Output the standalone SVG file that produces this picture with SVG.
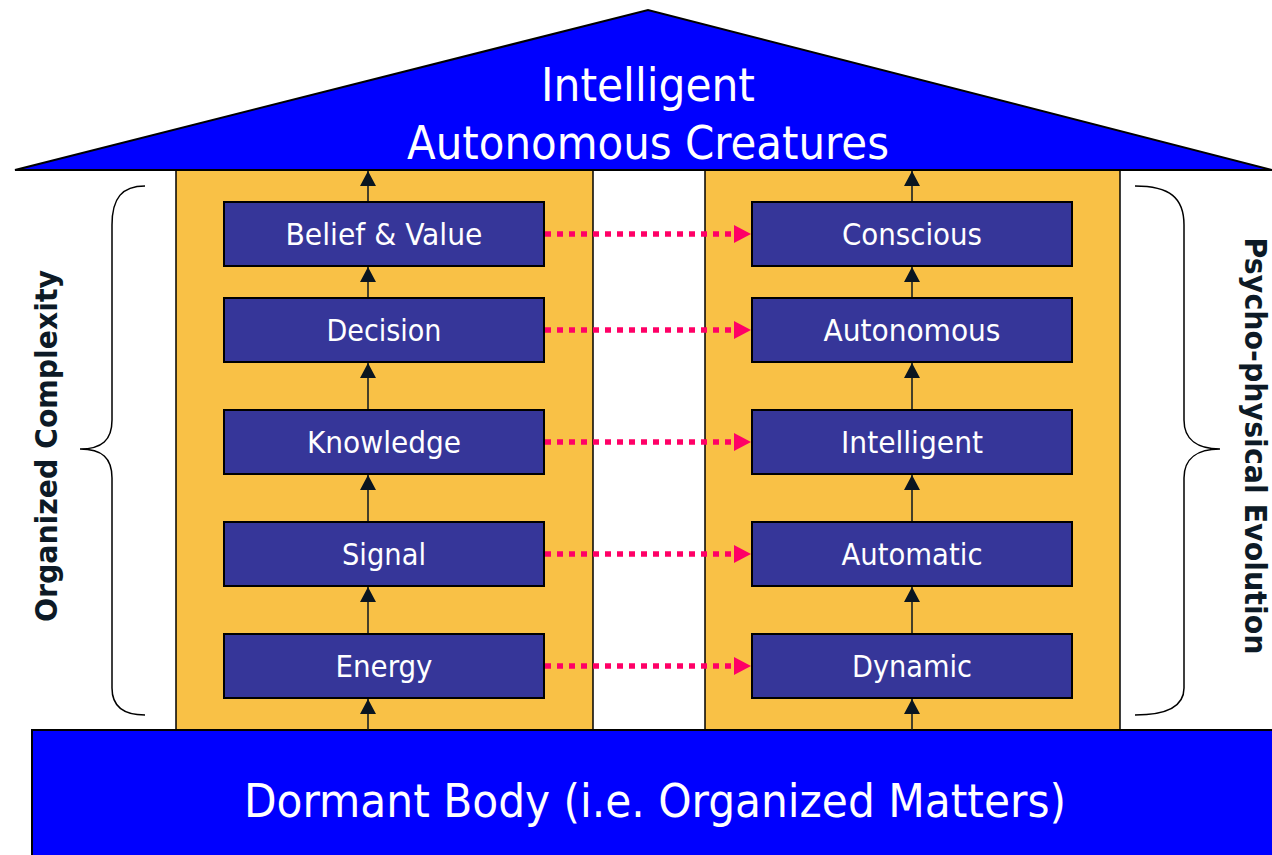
<svg xmlns="http://www.w3.org/2000/svg" width="1272" height="855" viewBox="0 0 1272 855">
<style>
.pillar{fill:#f9c146;stroke:#000;stroke-width:1.5}
.box{fill:#363699;stroke:#000;stroke-width:2}
.blue{fill:#0000ff;stroke:#000;stroke-width:2}
.lbl{fill:#fff;font-family:"DejaVu Sans Condensed","DejaVu Sans",sans-serif;font-size:30px;text-anchor:middle}
.big{fill:#fff;font-family:"DejaVu Sans Condensed","DejaVu Sans",sans-serif;font-size:46px;text-anchor:middle}
.side{fill:#0d1a26;font-family:"DejaVu Sans","Liberation Sans",sans-serif;font-weight:bold;font-size:30px;text-anchor:middle}
.up{stroke:#0a1520;stroke-width:1.5;fill:none;marker-end:url(#ah)}
.dot{stroke:#ff0066;stroke-width:5.5;stroke-dasharray:6 6;fill:none;marker-end:url(#ph)}
.brace{stroke:#000;stroke-width:1.5;fill:none}
</style>
<defs>
<marker id="ah" markerUnits="userSpaceOnUse" markerWidth="16" markerHeight="16" refX="15" refY="8" orient="auto">
<path d="M0,0 L15,8 L0,16 z" fill="#0a1520"/>
</marker>
<marker id="ph" markerUnits="userSpaceOnUse" markerWidth="18" markerHeight="18" refX="0" refY="9" orient="auto">
<path d="M0,0 L17,9 L0,18 z" fill="#ff0066"/>
</marker>
</defs>
<g id="pillar-left"><rect class="pillar" x="176" y="170" width="417" height="560"/></g>
<g id="pillar-right"><rect class="pillar" x="705" y="170" width="415" height="560"/></g>
<g id="base">
<rect class="blue" x="32" y="730" width="1250" height="140"/>
<text class="big" x="655" y="817" textLength="822" lengthAdjust="spacingAndGlyphs">Dormant Body (i.e. Organized Matters)</text>
</g>
<g id="roof">
<polygon class="blue" points="15,170 648,10 1280,172 1280,170"/>
<text class="big" x="648" y="101" textLength="214" lengthAdjust="spacingAndGlyphs">Intelligent</text>
<text class="big" x="648" y="159" textLength="482" lengthAdjust="spacingAndGlyphs">Autonomous Creatures</text>
</g>
<g id="connectors">
<line class="up" x1="368" y1="730" x2="368" y2="699"/>
<line class="up" x1="368" y1="634" x2="368" y2="587"/>
<line class="up" x1="368" y1="522" x2="368" y2="475"/>
<line class="up" x1="368" y1="410" x2="368" y2="363"/>
<line class="up" x1="368" y1="298" x2="368" y2="267"/>
<line class="up" x1="368" y1="202" x2="368" y2="171"/>
<line class="up" x1="912" y1="730" x2="912" y2="699"/>
<line class="up" x1="912" y1="634" x2="912" y2="587"/>
<line class="up" x1="912" y1="522" x2="912" y2="475"/>
<line class="up" x1="912" y1="410" x2="912" y2="363"/>
<line class="up" x1="912" y1="298" x2="912" y2="267"/>
<line class="up" x1="912" y1="202" x2="912" y2="171"/>
<line class="dot" x1="545" y1="234" x2="734" y2="234"/>
<line class="dot" x1="545" y1="330" x2="734" y2="330"/>
<line class="dot" x1="545" y1="442" x2="734" y2="442"/>
<line class="dot" x1="545" y1="554" x2="734" y2="554"/>
<line class="dot" x1="545" y1="666" x2="734" y2="666"/>
</g>
<g id="belief"><rect class="box" x="224" y="202" width="320" height="64"/><text class="lbl" x="384" y="245" textLength="197" lengthAdjust="spacingAndGlyphs">Belief &amp; Value</text></g>
<g id="decision"><rect class="box" x="224" y="298" width="320" height="64"/><text class="lbl" x="384" y="341" textLength="115" lengthAdjust="spacingAndGlyphs">Decision</text></g>
<g id="knowledge"><rect class="box" x="224" y="410" width="320" height="64"/><text class="lbl" x="384" y="453" textLength="154" lengthAdjust="spacingAndGlyphs">Knowledge</text></g>
<g id="signal"><rect class="box" x="224" y="522" width="320" height="64"/><text class="lbl" x="384" y="565" textLength="84" lengthAdjust="spacingAndGlyphs">Signal</text></g>
<g id="energy"><rect class="box" x="224" y="634" width="320" height="64"/><text class="lbl" x="384" y="677" textLength="97" lengthAdjust="spacingAndGlyphs">Energy</text></g>
<g id="conscious"><rect class="box" x="752" y="202" width="320" height="64"/><text class="lbl" x="912" y="245" textLength="140" lengthAdjust="spacingAndGlyphs">Conscious</text></g>
<g id="autonomous"><rect class="box" x="752" y="298" width="320" height="64"/><text class="lbl" x="912" y="341" textLength="177" lengthAdjust="spacingAndGlyphs">Autonomous</text></g>
<g id="intelligent"><rect class="box" x="752" y="410" width="320" height="64"/><text class="lbl" x="912" y="453" textLength="142" lengthAdjust="spacingAndGlyphs">Intelligent</text></g>
<g id="automatic"><rect class="box" x="752" y="522" width="320" height="64"/><text class="lbl" x="912" y="565" textLength="141" lengthAdjust="spacingAndGlyphs">Automatic</text></g>
<g id="dynamic"><rect class="box" x="752" y="634" width="320" height="64"/><text class="lbl" x="912" y="677" textLength="120" lengthAdjust="spacingAndGlyphs">Dynamic</text></g>
<g id="brace-left">
<path class="brace" d="M145,186 C122,186 112,198 112,225 L112,420 C112,440 102,449 80,449 C102,449 112,458 112,478 L112,688 C112,705 122,715 145,715"/>
<text class="side" transform="translate(57,446) rotate(-90)" textLength="352" lengthAdjust="spacingAndGlyphs">Organized Complexity</text>
</g>
<g id="brace-right">
<path class="brace" d="M1135,186 C1170,186 1184,198 1184,225 L1184,420 C1184,440 1198,449 1220,449 C1198,449 1184,458 1184,478 L1184,688 C1184,705 1170,715 1135,715"/>
<text class="side" transform="translate(1245,446) rotate(90)" textLength="417" lengthAdjust="spacingAndGlyphs">Psycho-physical Evolution</text>
</g>
</svg>
